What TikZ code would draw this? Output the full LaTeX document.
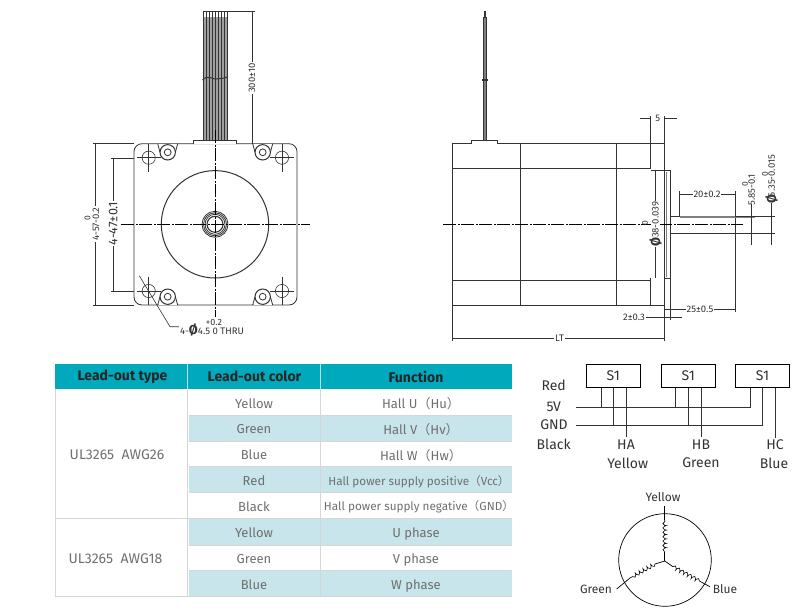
\documentclass[tikz,border=0pt]{standalone}
\usepackage{fontspec}
\setmainfont{Fira Sans}
\newfontfamily\cjkfont{Noto Sans CJK SC}
\usetikzlibrary{decorations.pathmorphing}
\definecolor{inkgray}{HTML}{333333}
\definecolor{textgray}{HTML}{6F6F6F}
\definecolor{headcolor}{HTML}{00A9BC}
\definecolor{stripecolor}{HTML}{C7E5EA}
\definecolor{gridcolor}{HTML}{D6D6D6}
\newcommand{\lp}{{\cjkfont （}}
\newcommand{\rp}{{\cjkfont ）}}
\tikzset{
  part/.style={draw=inkgray,line width=0.8pt},
  dimline/.style={draw=inkgray,line width=0.6pt},
  centerline/.style={draw=black,line width=0.6pt,dash pattern=on 13pt off 1.5pt on 2pt off 1.5pt},
  dimtext/.style={font=\fontsize{9.5}{9.5}\selectfont,text=inkgray,inner sep=1pt,fill=white},
  tol/.style={font=\fontsize{8.5}{8.5}\selectfont,text=inkgray,inner sep=0pt},
  headcell/.style={font=\fontsize{14}{14}\selectfont\bfseries,text=black!85},
  cell/.style={font=\fontsize{13}{13}\selectfont,text=textgray},
  typecell/.style={font=\fontsize{14}{14}\selectfont,text=textgray},
  smallcell/.style={font=\fontsize{11.7}{12}\selectfont,text=textgray},
  wirelabel/.style={font=\fontsize{14}{14}\selectfont,text=inkgray,inner sep=0pt},
  hallbox/.style={draw=black,line width=0.8pt,minimum width=54pt,minimum height=23pt,font=\fontsize{14}{14}\selectfont,text=inkgray,inner sep=0pt},
  pin/.style={draw=inkgray,line width=0.9pt},
  winding/.style={draw=black,line width=0.6pt,decorate,decoration={coil,aspect=0.4,segment length=4.4pt,amplitude=1.8pt}},
  phaselabel/.style={font=\fontsize{12}{12}\selectfont,text=inkgray,inner sep=0pt}
}
\begin{document}
\begin{tikzpicture}[x=1pt,y=-1pt]
\useasboundingbox (0,0) rectangle (811,613);
% front view
\draw[part,rounded corners=8pt] (134,143.7) rectangle (297,305);
\draw[part,line width=1pt] (215,224.3) circle (53.7);
\draw[part] (215,224.3) circle (13);
\draw[part] (215,224.3) circle (11.5);
\draw[part] (215,224.3) circle (10);
\draw[part,line width=1.1pt] (215,224.3) circle (8);
\foreach \bx/\by/\oy in {167.7/152.3/143.7,262.7/152.3/143.7,167.7/296.7/305,262.7/296.7/305}{
  \fill[white] (\bx-9,\oy) rectangle (\bx+9,\by);
  \draw[part] (\bx-10,\oy) -- (\bx-7.7,\by);
  \draw[part] (\bx+10,\oy) -- (\bx+7.7,\by);
  \draw[part,line width=1pt] (\bx,\by) circle (7.7);
  \draw[part] (\bx,\by) circle (3.4);
}
\foreach \hx/\hy in {148.7/157.7,282/157.7,148.7/291,282/291}{
  \draw[dimline] (\hx,\hy) circle (6.6);
  \draw[dimline] (\hx,\hy-14) -- (\hx,\hy+14);
  \draw[dimline] (\hx-12,\hy) -- (\hx+12,\hy);
}
% wires
\fill[gray!75] (203.3,17) rectangle (227.3,140);
\foreach \wx in {203.3,206.3,...,227.4}{
  \draw[inkgray,line width=0.5pt] (\wx,11.3) -- (\wx,140.3);
}
\fill[inkgray] (203.3,11.3) rectangle (227.3,12.3);
\draw[inkgray,line width=1pt] (202.5,80) .. controls (208,74) and (213,80) .. (217,79) .. controls (221,78) and (224,79) .. (228,76.5);
\draw[part,fill=white] (193.7,143.7) -- (193.7,140.3) -- (236.7,140.3) -- (236.7,143.7);
\draw[centerline] (215,130) -- (215,316.7);
\draw[centerline] (121,224.3) -- (310,224.3);
% front view dimensions
\draw[dimline] (227,11.5) -- (255,11.5);
\draw[dimline] (252,11.5) -- (252,143.7);
\node[dimtext,rotate=90] (wirelen) at (252,78){300±10};
\draw[dimline] (93,143.7) -- (134,143.7);
\draw[dimline] (93,305) -- (134,305);
\draw[dimline] (95.7,143.7) -- (95.7,305);
\node[dimtext,rotate=90] (bodywidth) at (96,224){4-57-0.2};
\node[tol,rotate=90] (bodytol) at (87.5,217.7){0};
\draw[dimline] (111,158) -- (134,158);
\draw[dimline] (111,291) -- (134,291);
\draw[dimline] (113.3,158) -- (113.3,291);
\node[dimtext,rotate=90,font=\fontsize{12.5}{12.5}\selectfont] (holepitch) at (113.3,223.7){4-47±0.1};
\draw[dimline] (139.3,275.7) -- (170,326.7) -- (179,326.7);
\node[tol,font=\fontsize{9}{9}\selectfont] (holetol) at (214,322){+0.2};
\node[dimtext,fill=none,anchor=west] (holetext) at (179,330){4-{\fontsize{13}{13}\selectfont\bfseries Ø}4.5 0 THRU};
% side view
\draw[part] (452.3,143.7) rectangle (664.7,305.3);
\draw[part] (520.3,143.7) -- (520.3,305.3);
\draw[part] (616.7,143.7) -- (616.7,305.3);
\draw[part] (650.7,143.7) -- (650.7,168.3);
\draw[part] (650.7,278.3) -- (650.7,305.3);
\draw[part] (452.3,168.3) -- (650.7,168.3);
\draw[part] (452.3,280.3) -- (650.7,280.3);
\draw[part] (650.7,170.7) -- (670,170.7) -- (670,278.3) -- (664.7,278.3);
\draw[part,gray,line width=1.2pt] (666.5,172) -- (666.5,277);
\draw[part] (670,216) -- (735.3,216) -- (735.3,233.3) -- (670,233.3);
\draw[part,gray,line width=1.4pt] (680,217) -- (755,217);
\draw[part,fill=gray] (483,17) rectangle (486.5,140.3);
\draw[inkgray,line width=2pt] (484.7,11) -- (484.7,17);
\draw[inkgray,line width=2pt] (481.5,80) -- (488,80);
\draw[part,fill=white] (471.7,143.7) -- (471.7,140.3) -- (497.7,140.3) -- (497.7,143.7);
\draw[centerline] (443,224.3) -- (743,224.3);
% side view dimensions
\draw[dimline] (650.7,116) -- (650.7,143.7);
\draw[dimline] (664.7,116) -- (664.7,143.7);
\draw[dimline] (640,118.7) -- (650.7,118.7);
\draw[dimline] (664.7,118.7) -- (677,118.7);
\node[dimtext,fill=none] (flangeth) at (657.7,118.7){5};
\draw[dimline] (679,191) -- (679,216);
\draw[dimline] (735.3,191) -- (735.3,216);
\draw[dimline,line width=0.9pt] (735.3,233.3) -- (735.3,312);
\draw[dimline] (679,194) -- (735.3,194);
\node[dimtext] (shaftflat) at (707,194){20±0.2};
\draw[dimline] (735.3,216) -- (775,216);
\draw[dimline] (735.3,233.3) -- (775,233.3);
\draw[dimline] (751.7,204) -- (751.7,245);
\draw[dimline] (771.7,203) -- (771.7,245);
\node[dimtext,fill=none,rotate=90] (flatsize) at (751.7,190){5.85-0.1};
\node[tol,rotate=90] (flattol) at (745,184){0};
\node[dimtext,fill=none,rotate=90] (shaftsize) at (771.7,176){6.35-0.015};
\node[tol,rotate=90] (shafttol) at (765,174){0};
\node[dimtext,fill=none,rotate=90,font=\fontsize{13}{13}\selectfont\bfseries] (shaftdia) at (771.7,199){Ø};
\draw[dimline] (655,170.7) -- (655,278.3);
\node[dimtext,rotate=90] (pilotsize) at (655.5,220){38-0.039};
\node[tol,rotate=90] (pilottol) at (645,223){0};
\node[dimtext,rotate=90,font=\fontsize{13}{13}\selectfont\bfseries] (pilotdia) at (655.5,242){Ø};
\draw[dimline] (664.7,305) -- (664.7,320);
\draw[dimline] (670.3,278.3) -- (670.3,320);
\draw[dimline,line width=0.9pt] (664.7,309.7) -- (735.3,309.7);
\node[dimtext] (shaftlen) at (700,309.7){25±0.5};
\draw[dimline] (646,317) -- (682,317);
\node[dimtext] (pilotlen) at (634,317){2±0.3};
\draw[dimline] (452.3,305.3) -- (452.3,341);
\draw[dimline] (664.7,305.3) -- (664.7,341);
\draw[dimline] (452.3,338) -- (664.7,338);
\node[dimtext] (bodylen) at (559.5,338){LT};
% table
\fill[headcolor] (55,364) rectangle (511.7,388.7);
\foreach \ya/\yb in {415/441,466.7/492.7,518.3/545,570.7/596.7}{
  \fill[stripecolor] (188.5,\ya) rectangle (511.7,\yb);
}
\foreach \ty in {415,441,466.7,492.7,545,570.7}{
  \draw[gridcolor,line width=1pt] (188.5,\ty) -- (511.7,\ty);
}
\draw[gridcolor,line width=1.2pt] (55,518.3) -- (511.7,518.3);
\draw[gridcolor,line width=1.2pt] (55,596.7) -- (511.7,596.7);
\draw[gridcolor,line width=1pt] (55,388.7) -- (55,596.7);
\draw[gridcolor,line width=1.2pt] (187.7,388.7) -- (187.7,596.7);
\draw[gridcolor,line width=1.2pt] (320.7,388.7) -- (320.7,596.7);
\draw[white!70!headcolor,line width=0.8pt] (187.7,364) -- (187.7,388.7);
\draw[white!70!headcolor,line width=0.8pt] (320.7,364) -- (320.7,388.7);
\node[headcell] (headtype) at (122.5,376.5){Lead-out type};
\node[headcell] (headcol) at (254.5,376.5){Lead-out color};
\node[headcell] (headfunc) at (416,376.5){Function};
\node[typecell] (typea) at (117,455){UL3265\ \ AWG26};
\node[typecell] (typeb) at (115.5,559){UL3265\ \ AWG18};
\foreach \ry/\rcol in {403.7/Yellow,428.7/Green,454.7/Blue,480.7/Red,506.7/Black,532.7/Yellow,558.7/Green,584.7/Blue}{
  \node[cell] at (254,\ry){\rcol};
}
\node[cell] (funca) at (421,403.7){Hall U\lp Hu\rp};
\node[cell] (funcb) at (421,429.7){Hall V\lp Hv\rp};
\node[cell] (funcc) at (421,455.7){Hall W\lp Hw\rp};
\node[smallcell] (funcd) at (419,481.7){Hall power supply positive\lp Vcc\rp};
\node[smallcell] (funce) at (419,507){Hall power supply negative\lp GND\rp};
\node[cell] (funcf) at (416,533.7){U phase};
\node[cell] (funcg) at (416,559.7){V phase};
\node[cell] (funch) at (416,585.7){W phase};
% hall wiring
\node[hallbox] (sa) at (613.3,376){S1};
\node[hallbox] (sb) at (688.3,376){S1};
\node[hallbox] (sc) at (762.5,376){S1};
\coordinate (vstart) at (576,407.3);
\coordinate (gstart) at (576,425);
\coordinate (ha) at (626.3,436.7);
\coordinate (hb) at (701,436.7);
\coordinate (hc) at (775,438);
\draw[pin,line width=0.7pt] (vstart) -- (750,407.3) -- (sc.south -| 750,0);
\draw[pin] (gstart) -- (762.3,425) -- (sc.south -| 762.3,0);
\foreach \pbox/\px/\py in {sa/601/407.3,sa/613.7/425,sb/675.7/407.3,sb/688.3/425}{
  \draw[pin] (\pbox.south -| \px,0) -- (\px,\py);
}
\draw[pin] (sa.south -| ha) -- (ha);
\draw[pin] (sb.south -| hb) -- (hb);
\draw[pin] (sc.south -| hc) -- (hc);
\node[wirelabel] (lred) at (553.7,385){Red};
\node[wirelabel] (lfive) at (553.7,407){5V};
\node[wirelabel] (lgnd) at (554,425){GND};
\node[wirelabel] (lblack) at (553.7,444){Black};
\node[wirelabel] (lha) at (626,445){HA};
\node[wirelabel] (lyellow) at (627.7,463){Yellow};
\node[wirelabel] (lhb) at (701,445){HB};
\node[wirelabel] (lgreen) at (701,463){Green};
\node[wirelabel] (lhc) at (775,445){HC};
\node[wirelabel] (lblue) at (774,463){Blue};
% phase star
\draw[black,line width=0.7pt] (665,560) circle (46.3);
\coordinate (star) at (664.7,561);
\coordinate (ytop) at (664.7,505.7);
\coordinate (gend) at (616.7,589);
\coordinate (bend) at (710,586.7);
\draw[black,line width=0.7pt] (star) -- (664.7,551.7);
\draw[black,line width=0.7pt] (664.7,520) -- (ytop);
\draw[winding] (664.7,551.7) -- (664.7,520);
\draw[black,line width=0.7pt] (star) -- (655,564);
\draw[winding] (655,564) -- (630,578);
\draw[black,line width=0.7pt] (630,578) -- (gend);
\draw[black,line width=0.7pt] (star) -- (673,566.7);
\draw[winding] (673,566.7) -- (701.7,582.3);
\draw[black,line width=0.7pt] (701.7,582.3) -- (bend);
\node[phaselabel] (syellow) at (663,497){Yellow};
\node[phaselabel] (sgreen) at (596,589){Green};
\node[phaselabel] (sblue) at (725,589){Blue};
\end{tikzpicture}
\end{document}
